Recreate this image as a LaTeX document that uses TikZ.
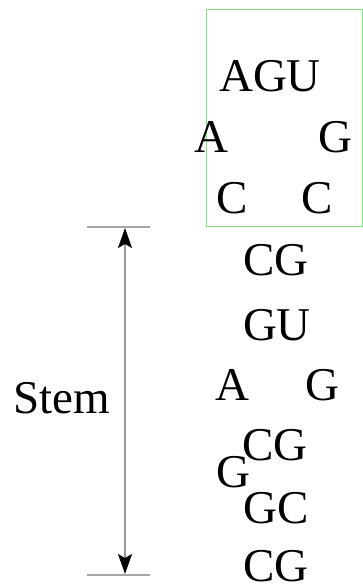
\documentclass[tikz,border=0pt]{standalone}
\usepackage{fontspec}
\setmainfont{Liberation Serif}
\usetikzlibrary{arrows.meta}
\begin{document}
\begin{tikzpicture}[x=1pt,y=-1pt,
  base/.style={anchor=base,inner sep=0pt,font=\fontsize{47}{50}\selectfont},
  guide/.style={draw=gray!70,line width=1.2pt},
  dim/.style={draw=gray!80,line width=1.4pt,
    >={Stealth[length=20pt,width=14pt,inset=4pt,black]},<->}]
\useasboundingbox (0,0) rectangle (363,588);
\draw[draw=green!60!gray!60,line width=1pt] (206,10) rectangle (362,226);
\node[base] (agu) at (270,92) {AGU};
\node[base] (a1) at (211,153) {A};
\node[base] (g1) at (335,153) {G};
\node[base] (c1) at (232,213) {C};
\node[base] (c2) at (317,213) {C};
\node[base] (cg1) at (276,275) {CG};
\node[base] (gu) at (277,340) {GU};
\node[base] (a2) at (232,400) {A};
\node[base] (g2) at (322,400) {G};
\node[base] (cg2) at (275,460) {CG};
\node[base] (g3) at (233,487) {G};
\node[base] (gc) at (276,523) {GC};
\node[base] (cg3) at (276,581) {CG};
\node[base] (stem) at (62,413) {Stem};
\coordinate (tl) at (87,227);
\coordinate (tr) at (150,227);
\coordinate (bl) at (87,575);
\coordinate (br) at (150,575);
\coordinate (top) at (125,228);
\coordinate (bot) at (125,574);
\draw[guide] (tl) -- (tr);
\draw[guide] (bl) -- (br);
\draw[dim] (top) -- (bot);
\end{tikzpicture}
\end{document}
